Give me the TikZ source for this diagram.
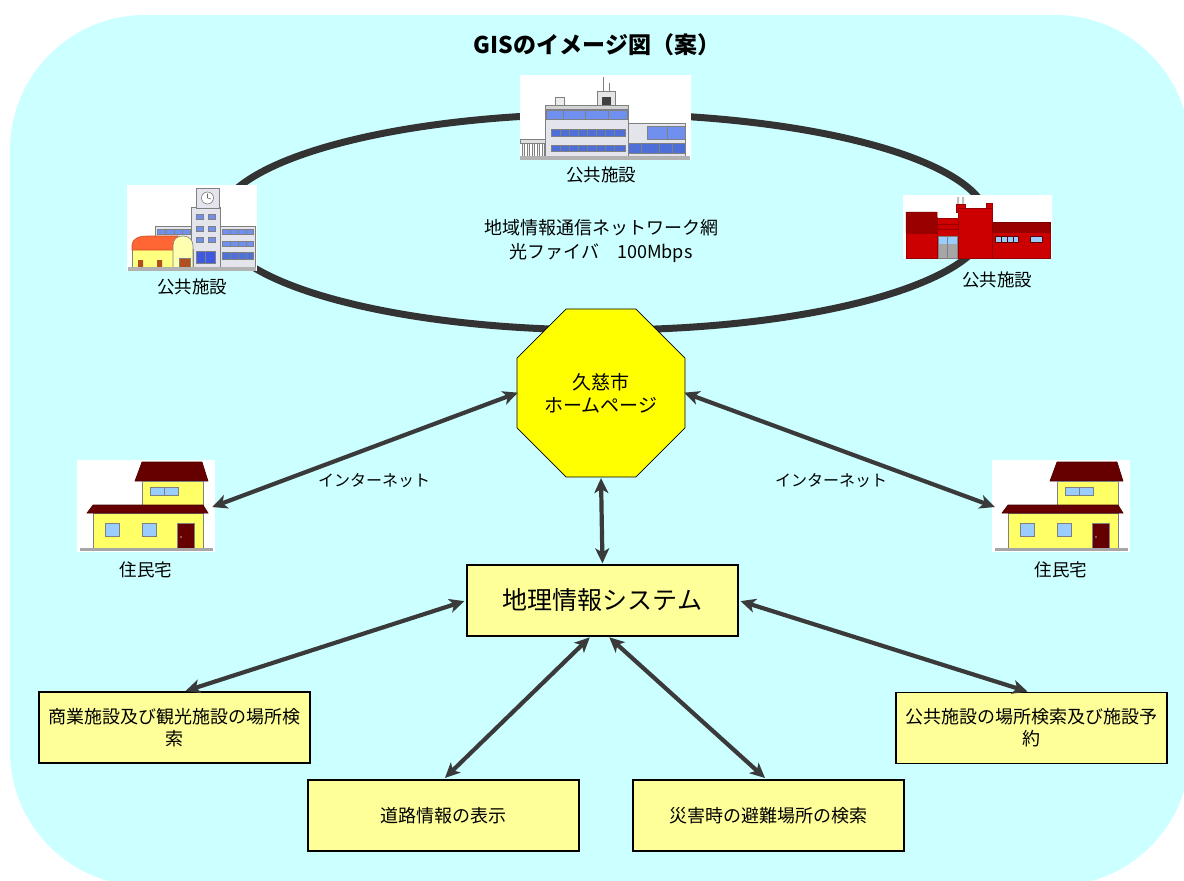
\documentclass[tikz,border=0pt]{standalone}
\usepackage{fontspec}
\setmainfont{Noto Sans CJK JP}
\usetikzlibrary{arrows.meta,shapes.geometric}
\definecolor{bgcyan}{HTML}{CCFFFF}
\definecolor{ringc}{HTML}{333333}
\definecolor{arrowc}{HTML}{3A3A3A}
\definecolor{boxfill}{HTML}{FFFF99}
\definecolor{octfill}{HTML}{FFFF00}
\definecolor{maroon}{HTML}{660000}
\definecolor{wallyel}{HTML}{FFFF66}
\definecolor{winblue}{HTML}{99CCFF}
\definecolor{glassA}{HTML}{7090F0}
\definecolor{glassB}{HTML}{4F6FD8}
\definecolor{concrete}{HTML}{E4E4EC}
\definecolor{brick}{HTML}{CC0000}
\definecolor{brickdark}{HTML}{990000}
\definecolor{gymroof}{HTML}{FF6633}
\definecolor{gymwall}{HTML}{FFFF80}
\definecolor{gymend}{HTML}{FFFFB0}
\definecolor{doorbrown}{HTML}{B05020}
\tikzset{
  txt/.style={font=\fontsize{18pt}{22pt}\selectfont, inner sep=0pt},
  lbl/.style={font=\fontsize{17.5pt}{21pt}\selectfont, inner sep=0pt},
  whitebg/.style={fill=white, draw=none, inner sep=0pt, outer sep=0pt},
  infobox/.style={fill=boxfill, draw=black, line width=1.3pt, minimum width=271pt,
    minimum height=71pt, inner sep=2pt, align=center, font=\fontsize{18pt}{22pt}\selectfont},
  dbl/.style={draw=arrowc, line width=4.2pt,
    {Stealth[length=15pt,width=14pt,inset=4pt]}-{Stealth[length=15pt,width=14pt,inset=4pt]}},
  thin/.style={draw=gray, line width=0.6pt},
  house/.pic={
    % upper storey
    \filldraw[fill=maroon, draw=maroon!70!black, line width=0.6pt]
      (65,2) -- (125,2) -- (131,21) -- (58,21) -- cycle;
    \filldraw[fill=wallyel, thin] (65,21) rectangle (126,45);
    \filldraw[fill=winblue, thin] (73,27) rectangle (101,35);
    \draw[thin] (87,27) -- (87,35);
    % ground storey
    \filldraw[fill=wallyel, thin] (16,53) rectangle (126,88);
    \filldraw[fill=maroon, draw=maroon!70!black, line width=0.6pt]
      (16,45) -- (126,45) -- (131,53) -- (10,53) -- cycle;
    \filldraw[fill=winblue, thin] (28,63) rectangle (42,76);
    \filldraw[fill=winblue, thin] (65,63) rectangle (79,76);
    \filldraw[fill=maroon, thin] (100,63) rectangle (117,88);
    \fill[gray!60] (104,77) circle (0.9);
    \fill[gray!70] (3,88) rectangle (136,91);
  }
}
\begin{document}
\begin{tikzpicture}[x=1pt,y=-1pt]
\useasboundingbox (0,0) rectangle (1184,881);
\clip (0,0) rectangle (1184,881);
\fill[bgcyan, rounded corners=135pt] (10,15) rectangle (1190,886);

% title
\node[font=\fontsize{23pt}{28pt}\selectfont\bfseries, inner sep=0pt] (title) at (597,45) {GISのイメージ図（案）};

% regional fibre network ring
\draw[ringc, line width=7pt] (603,222) ellipse [x radius=385, y radius=108];

\node[txt, align=center, font=\fontsize{18pt}{24pt}\selectfont] (net) at (601,241)
  {地域情報通信ネットワーク網\\光ファイバ　100Mbps};

% ---- public facility (top) ----
\node[whitebg, minimum width=171pt, minimum height=84pt] (bldC) at (605.5,117) {};
\draw[gray, line width=0.7pt] (603,77) -- (603,92) (609,83) -- (609,92);
\filldraw[fill=gray!20, thin] (597,91) rectangle (615,106);
\fill[black!75] (602,97) rectangle (611,106);
\filldraw[fill=gray!15, thin] (555,97) rectangle (564,106);
\filldraw[fill=concrete, thin] (545,105) rectangle (628,157);
\filldraw[fill=gray!35, thin] (545,105) rectangle (628,109);
\filldraw[fill=glassA, thin] (546,110) rectangle (627,119);
\foreach \x in {563,585,608} \draw[thin] (\x,110) -- (\x,119);
\filldraw[fill=glassB, thin] (551,129) rectangle (625,136);
\filldraw[fill=glassB, thin] (551,145) rectangle (625,151);
\foreach \x in {560,569,578,587,596,605,614} {
  \draw[thin] (\x,129) -- (\x,136);
  \draw[thin] (\x,145) -- (\x,151);
}
\filldraw[fill=concrete, thin] (628,123) rectangle (685,157);
\filldraw[fill=glassA, thin] (647,126) rectangle (685,139);
\draw[thin] (667,126) -- (667,139);
\filldraw[fill=glassB, thin] (628,143) rectangle (685,153);
\foreach \x in {641,659,672} \draw[thin] (\x,143) -- (\x,153);
\filldraw[fill=gray!25, thin] (520,139) rectangle (545,143);
\foreach \x in {522,527,532,537,542} \filldraw[fill=gray!10, thin] (\x,143) rectangle (\x+2.5,157);
\fill[gray!60] (520,156) rectangle (690,160);
\node[lbl] (lblC) at (601,175) {公共施設};

% ---- public facility (left) ----
\node[whitebg, minimum width=130pt, minimum height=86pt] (bldL) at (192,228) {};
\filldraw[fill=concrete, thin] (155,226) rectangle (192,268);
\filldraw[fill=glassA, thin] (157,229) rectangle (190,234);
\foreach \x in {165,174,182} \draw[thin] (\x,229) -- (\x,234);
\filldraw[fill=concrete, thin] (220,226) rectangle (255,268);
\filldraw[fill=glassA, thin] (222,229) rectangle (253,234);
\filldraw[fill=glassA, thin] (222,241) rectangle (253,246);
\filldraw[fill=glassB, thin] (222,252) rectangle (253,259);
\foreach \x in {230,238,246} {
  \draw[thin] (\x,229) -- (\x,234);
  \draw[thin] (\x,241) -- (\x,246);
  \draw[thin] (\x,252) -- (\x,259);
}
\filldraw[fill=concrete, thin] (191,207) rectangle (220,268);
\filldraw[fill=concrete, thin] (196,188) rectangle (219,208);
\filldraw[fill=white, thin] (207.5,198) circle (6);
\draw[gray!80!black, line width=0.6pt] (207.5,198) -- (207.5,193.5) (207.5,198) -- (211,199);
\foreach \y in {214,226,237} {
  \filldraw[fill=glassA, thin] (196,\y) rectangle (203,\y+5);
  \filldraw[fill=glassA, thin] (208,\y) rectangle (215,\y+5);
}
\filldraw[fill=glassB!80!blue, thin] (196,251) rectangle (215,263);
\draw[thin] (205.5,251) -- (205.5,263);
% gymnasium
\filldraw[fill=gymwall, thin] (132,249) rectangle (193,268);
\filldraw[fill=gymroof, draw=gymroof!80!black, line width=0.6pt]
  (132,250) -- (132,245) .. controls (133,238) and (139,236) .. (147,236)
  -- (178,236) -- (178,250) -- cycle;
\filldraw[fill=gymend, thin]
  (173,268) -- (173,246) .. controls (173,239) and (177,236) .. (183,236)
  .. controls (189,236) and (193,240) .. (193,246) -- (193,268) -- cycle;
\fill[doorbrown] (138,260) rectangle (143,268) (157,260) rectangle (162,268);
\filldraw[fill=doorbrown, thin] (179,258) rectangle (190,268);
\fill[gray!60] (128,267) rectangle (256,271);
\node[lbl] (lblL) at (192,287) {公共施設};

% ---- public facility (right) ----
\node[whitebg, minimum width=149pt, minimum height=63pt] (bldR) at (977.5,226.5) {};
\fill[gray!50] (957,197) rectangle (959,205) (962,197) rectangle (964,205);
\filldraw[fill=brick, draw=brickdark, line width=0.6pt] (956,204) rectangle (965,212);
\filldraw[fill=brick, draw=brickdark, line width=0.6pt] (986,203) rectangle (992,212);
\filldraw[fill=brick, draw=brickdark, line width=0.6pt] (958,208) rectangle (992,258);
\filldraw[fill=brickdark, draw=brickdark!80!black, line width=0.5pt] (906,212) -- (937,212) -- (938,233) -- (906,233) -- cycle;
\filldraw[fill=brick, draw=brickdark, line width=0.6pt] (906,233) rectangle (938,258);
\filldraw[fill=brick, draw=brickdark, line width=0.6pt] (937,218) rectangle (958,258);
\draw[brickdark, line width=0.6pt] (937,224) -- (958,224) (937,229) -- (958,229);
\filldraw[fill=gray!70, thin] (938,236) rectangle (957,258);
\fill[winblue] (938.5,236.5) rectangle (956.5,244);
\draw[thin] (947.5,236) -- (947.5,258);
\filldraw[fill=brickdark, draw=brickdark!80!black, line width=0.5pt] (992,222) rectangle (1050,232);
\filldraw[fill=brick, draw=brickdark, line width=0.6pt] (992,232) rectangle (1050,258);
\filldraw[fill=winblue, draw=brickdark!60!black, line width=0.5pt] (995,236) rectangle (1018,242);
\foreach \x in {1001,1007,1013} \draw[brickdark!60!black, line width=0.5pt] (\x,236) -- (\x,242);
\filldraw[fill=winblue, draw=brickdark!60!black, line width=0.5pt] (1030,236) rectangle (1042,242);
\node[lbl] (lblR) at (997,280) {公共施設};

% ---- homes ----
\node[whitebg, minimum width=138pt, minimum height=92pt] (homeL) at (146,506) {};
\pic at (homeL.north west) {house};
\node[lbl] (lblHL) at (146,570) {住民宅};
\node[whitebg, minimum width=138pt, minimum height=92pt] (homeR) at (1061,506) {};
\pic at (homeR.north west) {house};
\node[lbl] (lblHR) at (1061,570) {住民宅};

% ---- city homepage ----
\node[regular polygon, regular polygon sides=8, minimum size=182pt, inner sep=0pt,
  outer sep=0pt, fill=octfill, draw=black, line width=0.8pt, align=center,
  font=\fontsize{19pt}{23pt}\selectfont] (hp) at (601,393) {久慈市\\ホームページ};

% ---- GIS and services ----
\node[infobox, font=\fontsize{25pt}{30pt}\selectfont] (gis) at (602.5,600.5) {地理情報システム};
\node[infobox] (shop) at (174.5,727.5) {商業施設及び観光施設の場所検\\索};
\node[infobox] (pub) at (1031.5,728) {公共施設の場所検索及び施設予\\約};
\node[infobox] (road) at (443.5,815.5) {道路情報の表示};
\node[infobox] (evac) at (768.5,815.5) {災害時の避難場所の検索};

% ---- connections ----
\draw[dbl, shorten <=-3pt, shorten >=-1pt] (homeL.east) -- (hp.west);
\draw[dbl, shorten <=-3pt, shorten >=-1pt] (homeR.west) -- (hp.east);
\node[txt, font=\fontsize{16pt}{20pt}\selectfont] (inetL) at (374,481) {インターネット};
\node[txt, font=\fontsize{16pt}{20pt}\selectfont] (inetR) at (831,481) {インターネット};
\draw[dbl, shorten <=1pt, shorten >=1pt] (hp.south) -- (gis.north);
\draw[dbl, shorten <=2pt, shorten >=1pt] (gis.west) -- ([xshift=10pt]shop.north);
\draw[dbl, shorten <=2pt, shorten >=1pt] (gis.east) -- ([xshift=-3pt]pub.north);
\draw[dbl, shorten <=1pt, shorten >=2pt] ([xshift=-12pt]gis.south) -- (road.north);
\draw[dbl, shorten <=1pt, shorten >=2pt] ([xshift=6pt]gis.south) -- ([xshift=-2pt]evac.north);
\end{tikzpicture}
\end{document}
